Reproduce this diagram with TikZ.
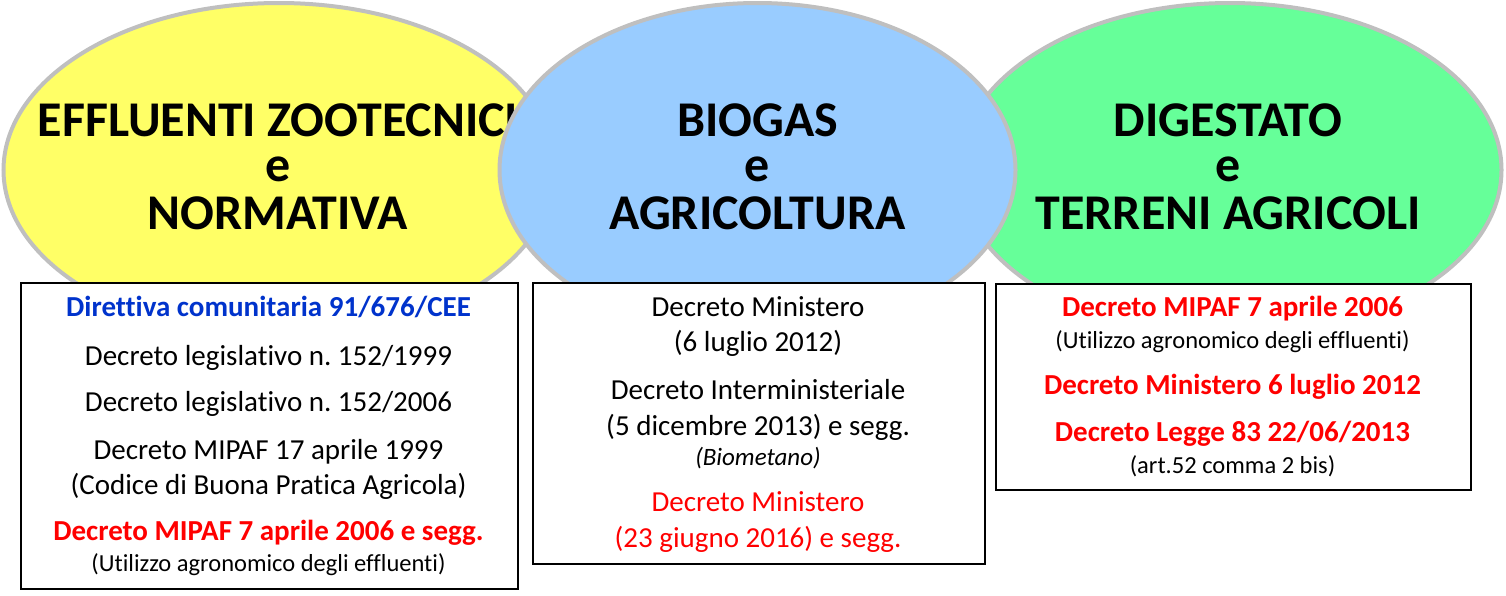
\documentclass[tikz,border=0pt]{standalone}
\usepackage{fontspec}
\setmainfont{Carlito}[Ligatures={NoCommon}]
\usetikzlibrary{shapes.geometric}
\definecolor{bubyellow}{HTML}{FFFF66}
\definecolor{bubblue}{HTML}{99CCFF}
\definecolor{bubgreen}{HTML}{66FF99}
\definecolor{bubline}{HTML}{BFBFBF}
\definecolor{dirblue}{HTML}{0033CC}
\definecolor{decred}{HTML}{FF0000}
\tikzset{
  bubble/.style={ellipse, draw=bubline, line width=4pt, inner sep=0pt},
  title/.style={anchor=base, inner sep=0pt, font=\bfseries\fontsize{50}{46}\selectfont},
  docbox/.style={draw=black, line width=2pt, fill=white, inner sep=0pt, anchor=north west},
  ln/.style={anchor=base, inner sep=0pt, font=\fontsize{29}{30}\selectfont},
  lnb/.style={anchor=base, inner sep=0pt, font=\bfseries\fontsize{29}{30}\selectfont},
  lns/.style={anchor=base, inner sep=0pt, font=\fontsize{24.5}{26}\selectfont},
  lni/.style={anchor=base, inner sep=0pt, font=\itshape\fontsize{25}{26}\selectfont},
}
\frenchspacing
\begin{document}
\begin{tikzpicture}[x=1pt,y=-1pt]
\useasboundingbox (0,0) rectangle (1506,595);
% yellow bubble
\node[bubble, fill=bubyellow, minimum width=551pt, minimum height=334pt] (ey) at (279,170) {};
\node[title] (ty1) at (278,136.7) {EFFLUENTI ZOOTECNICI};
\node[title] (ty2) at (278,181.7) {e};
\node[title] (ty3) at (278,229) {NORMATIVA};
% green bubble
\node[bubble, fill=bubgreen, minimum width=543pt, minimum height=334pt] (eg) at (1230,170) {};
\node[title] (tg1) at (1228,136.7) {DIGESTATO};
\node[title] (tg2) at (1228,181.7) {e};
\node[title] (tg3) at (1228,229) {TERRENI AGRICOLI};
% blue bubble
\node[bubble, fill=bubblue, minimum width=516pt, minimum height=334pt] (eb) at (757.5,170) {};
\node[title] (tb1) at (757.5,136.7) {BIOGAS};
\node[title] (tb2) at (757.5,181.7) {e};
\node[title] (tb3) at (757.5,229) {AGRICOLTURA};
% box 1
\node[docbox, minimum width=497pt, minimum height=306pt] (b1) at (20,282) {};
\node[lnb, text=dirblue] (b1a) at (268.5,316.7) {Direttiva comunitaria 91/676/CEE};
\node[ln] (b1b) at (268.5,365) {Decreto legislativo n. 152/1999};
\node[ln] (b1c) at (268.5,411.7) {Decreto legislativo n. 152/2006};
\node[ln] (b1d) at (268.5,459.3) {Decreto MIPAF 17 aprile 1999};
\node[ln] (b1e) at (268.5,494) {(Codice di Buona Pratica Agricola)};
\node[lnb, text=decred] (b1f) at (268.5,540.7) {Decreto MIPAF 7 aprile 2006 e segg.};
\node[lns] (b1g) at (268.5,571.7) {(Utilizzo agronomico degli effluenti)};
% box 2
\node[docbox, minimum width=452pt, minimum height=281pt] (b2) at (532,282) {};
\node[ln] (b2a) at (758,316.7) {Decreto Ministero};
\node[ln] (b2b) at (758,351.7) {(6 luglio 2012)};
\node[ln] (b2c) at (758,399.3) {Decreto Interministeriale};
\node[ln] (b2d) at (758,435) {(5 dicembre 2013) e segg.};
\node[lni] (b2e) at (758,465) {(Biometano)};
\node[ln, text=decred] (b2f) at (758,511.7) {Decreto Ministero};
\node[ln, text=decred] (b2g) at (758,547.3) {(23 giugno 2016) e segg.};
% box 3
\node[docbox, minimum width=475pt, minimum height=206pt] (b3) at (995,283) {};
\node[lnb, text=decred] (b3a) at (1232.5,316) {Decreto MIPAF 7 aprile 2006};
\node[lns] (b3b) at (1232.5,348.3) {(Utilizzo agronomico degli effluenti)};
\node[lnb, text=decred] (b3c) at (1232.5,394.3) {Decreto Ministero 6 luglio 2012};
\node[lnb, text=decred] (b3d) at (1232.5,441) {Decreto Legge 83 22/06/2013};
\node[lns] (b3e) at (1232.5,473.3) {(art.52 comma 2 bis)};
\end{tikzpicture}
\end{document}
